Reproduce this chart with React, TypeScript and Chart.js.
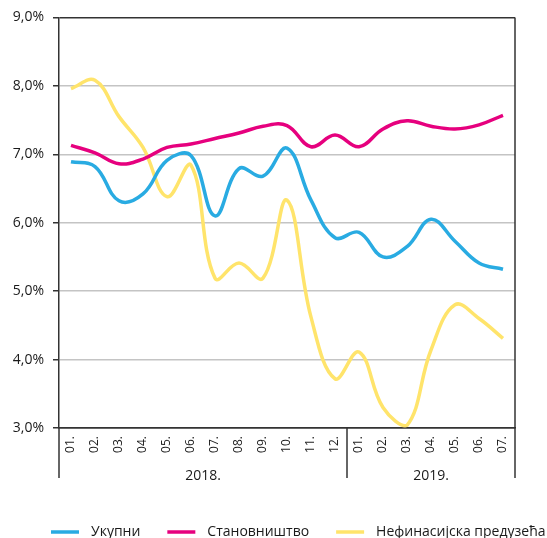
import React, { useEffect, useRef } from "react";
import { Chart, registerables } from "chart.js";

Chart.register(...registerables);

const months = ["01.", "02.", "03.", "04.", "05.", "06.", "07.", "08.", "09.", "10.", "11.", "12.", "01.", "02.", "03.", "04.", "05.", "06.", "07."];
const years = ["2018.", "2019."];
const yearSpans = [[0, 11], [12, 18]];

const ukupni = [6.89, 6.82, 6.32, 6.42, 6.91, 6.98, 6.1, 6.79, 6.68, 7.09, 6.33, 5.78, 5.86, 5.5, 5.65, 6.05, 5.73, 5.41, 5.32];
const stanovnistvo = [7.13, 7.02, 6.86, 6.93, 7.1, 7.15, 7.23, 7.31, 7.41, 7.42, 7.11, 7.28, 7.11, 7.37, 7.49, 7.41, 7.37, 7.43, 7.57];
const preduzeca = [7.96, 8.08, 7.55, 7.1, 6.38, 6.84, 5.19, 5.41, 5.19, 6.33, 4.62, 3.72, 4.11, 3.3, 3.04, 4.14, 4.8, 4.6, 4.31];

const seriesNames = ["Укупни", "Становништво", "Нефинасијска предузећа"];
const seriesColors = ["#29abe2", "#e6007e", "#ffe46b"];
const yTicks = [3, 4, 5, 6, 7, 8, 9];

const FONT = "'Open Sans', 'Noto Sans', sans-serif";
const DARK = "#333333";

const extrasPlugin = {
  id: "extras",
  afterDraw(chart: any) {
    const { ctx, chartArea } = chart;
    const x = chart.scales.x;
    const bottomLine = 478;
    ctx.save();
    ctx.strokeStyle = DARK;
    ctx.lineWidth = 1.5;
    // right border
    ctx.beginPath();
    ctx.moveTo(chartArea.right, chartArea.top);
    ctx.lineTo(chartArea.right, bottomLine);
    ctx.stroke();
    // left extension
    ctx.beginPath();
    ctx.moveTo(chartArea.left, chartArea.bottom);
    ctx.lineTo(chartArea.left, bottomLine);
    ctx.stroke();
    // year separator
    const sep = (x.getPixelForValue(11) + x.getPixelForValue(12)) / 2;
    ctx.beginPath();
    ctx.moveTo(sep, chartArea.bottom);
    ctx.lineTo(sep, bottomLine);
    ctx.stroke();
    // year labels
    ctx.fillStyle = "#1a1a1a";
    ctx.font = `14px ${FONT}`;
    ctx.textAlign = "center";
    ctx.textBaseline = "alphabetic";
    const bounds = [chartArea.left, sep, chartArea.right];
    years.forEach((y, i) => {
      const cx = (bounds[i] + bounds[i + 1]) / 2;
      ctx.fillText(y, cx, 480);
    });
    // legend
    ctx.textAlign = "left";
    let lx = 51;
    const ly = 532;
    seriesNames.forEach((n, i) => {
      ctx.strokeStyle = seriesColors[i];
      ctx.lineWidth = 3.5;
      ctx.beginPath();
      ctx.moveTo(lx, ly);
      ctx.lineTo(lx + 28, ly);
      ctx.stroke();
      ctx.fillStyle = "#1a1a1a";
      ctx.fillText(n, lx + 40, 536);
      lx += 40 + ctx.measureText(n).width + 27;
    });
    ctx.restore();
  },
};

export default function App() {
  const ref = useRef<HTMLCanvasElement>(null);
  useEffect(() => {
    if (!ref.current) return;
    const chart = new Chart(ref.current, {
      type: "line",
      data: {
        labels: months,
        datasets: [ukupni, stanovnistvo, preduzeca].map((d, i) => ({
          label: seriesNames[i],
          data: d,
          borderColor: seriesColors[i],
          backgroundColor: seriesColors[i],
          borderWidth: 3.5,
          pointRadius: 0,
          tension: 0.4,
          fill: false,
        })),
      },
      options: {
        animation: false,
        responsive: false,
        layout: { padding: { left: 0, right: 32, top: 17, bottom: 0 } },
        plugins: { legend: { display: false }, tooltip: { enabled: false } },
        scales: {
          x: {
            offset: true,
            grid: { display: false, drawTicks: false },
            border: { display: true, color: DARK, width: 1.5 },
            ticks: {
              minRotation: 90,
              maxRotation: 90,
              padding: 8,
              color: "#1a1a1a",
              font: { family: FONT, size: 12 },
              autoSkip: false,
            },
            afterFit(scale: any) {
              scale.height = 110;
            },
          },
          y: {
            min: 3,
            max: 9,
            afterBuildTicks(scale: any) {
              scale.ticks = yTicks.map((v) => ({ value: v }));
            },
            grid: {
              color: (c: any) => (c.tick && (c.tick.value === 9 || c.tick.value === 3) ? DARK : "#c4c4c4"),
              lineWidth: 1.5,
              tickLength: 6,
              tickColor: DARK,
            },
            border: { display: true, color: DARK, width: 1.5 },
            ticks: {
              padding: 9,
              color: "#1a1a1a",
              font: { family: FONT, size: 14 },
              callback: (v: any) => Number(v).toFixed(1).replace(".", ",") + "%",
            },
            afterFit(scale: any) {
              scale.width = 59;
            },
          },
        },
      },
      plugins: [extrasPlugin],
    });
    return () => chart.destroy();
  }, []);
  return (
    <div style={{ position: "absolute", left: 0, top: 0, width: 547, height: 538, overflow: "hidden", background: "#fff" }}>
      <canvas ref={ref} width={547} height={538} style={{ display: "block" }} />
    </div>
  );
}
